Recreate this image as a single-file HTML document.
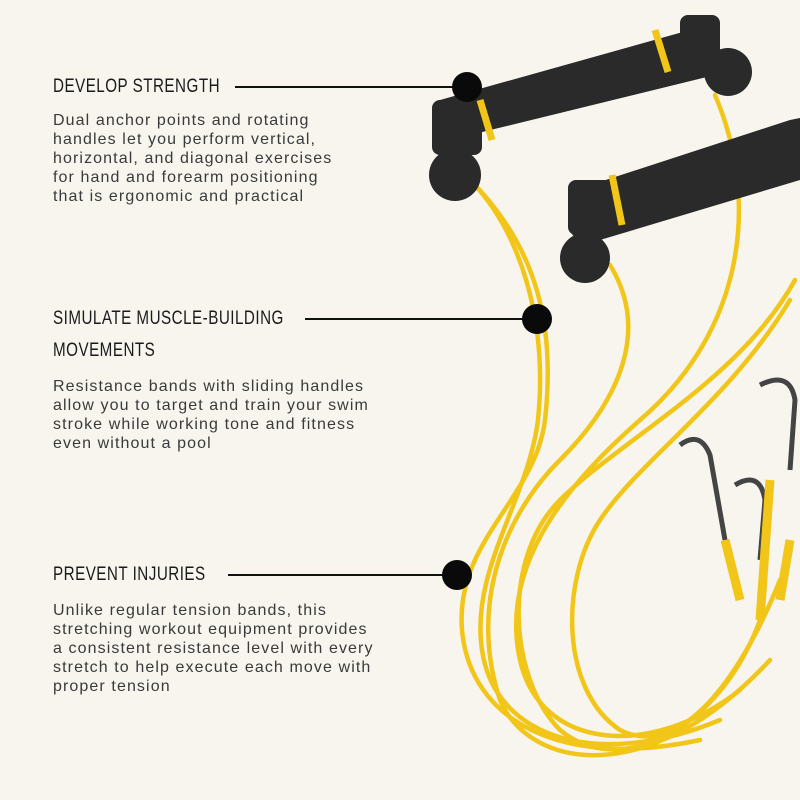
<!DOCTYPE html>
<html><head><meta charset="utf-8"><style>
body{margin:0;background:#f7f5ee;}
.w{position:relative;width:800px;height:800px;overflow:hidden;background:#f7f5ee;font-family:"Liberation Sans",sans-serif;}
.h{position:absolute;left:53px;font-size:19px;color:#1a1a1a;letter-spacing:0.6px;transform:scaleX(0.8);transform-origin:left;white-space:nowrap;}
.p{position:absolute;left:53px;font-size:16px;line-height:19px;color:#3a3a3a;letter-spacing:1.1px;white-space:nowrap;}
svg{position:absolute;left:0;top:0}
</style></head><body><div class="w">
<svg width="800" height="800">
<g fill="none" stroke="#f1c619" stroke-width="4.5" stroke-linecap="round">
<path d="M470 180 C540 250 555 330 545 420 C535 500 455 540 462 630 C470 720 560 770 700 740"/>
<path d="M470 180 C520 230 548 320 538 420 C528 500 470 570 482 650 C495 740 600 770 720 720"/>
<path d="M715 95 C760 200 745 330 640 420 C560 490 500 570 520 660 C540 750 650 760 740 690"/>
<path d="M610 265 C650 330 620 400 560 460 C500 520 470 610 500 700 C530 770 650 790 770 660"/>
<path d="M795 280 C740 380 620 440 560 500 C500 560 510 680 560 730 C620 780 720 730 760 620"/>
<path d="M790 300 C730 400 640 460 600 520 C560 580 560 690 620 730 C680 760 740 680 780 580"/>
</g>
<g fill="#2a2a2a">
<path d="M440 100 L690 30 Q715 25 715 55 L715 75 L470 135 Q440 145 435 130 Z"/>
<rect x="432" y="100" width="50" height="55" rx="8"/>
<circle cx="455" cy="175" r="26"/>
<rect x="680" y="15" width="40" height="55" rx="8"/>
<circle cx="728" cy="72" r="24"/>
<path d="M575 190 L790 120 L800 118 L800 180 L600 240 Q575 245 570 230 Z"/>
<rect x="568" y="180" width="45" height="55" rx="8"/>
<circle cx="585" cy="258" r="25"/>
</g>
<g fill="none" stroke="#f1c619" stroke-width="7">
<line x1="480" y1="100" x2="492" y2="140"/><line x1="655" y1="30" x2="668" y2="72"/>
<line x1="612" y1="175" x2="622" y2="225"/>
</g>
<g fill="none" stroke="#444" stroke-width="5">
<path d="M680 445 Q700 430 710 455 L725 540"/><path d="M760 385 Q790 370 795 400 L790 470"/>
<path d="M735 485 Q760 470 765 500 L760 560"/>
</g>
<g fill="none" stroke="#f1c619" stroke-width="9">
<path d="M725 540 L740 600"/><path d="M770 480 L760 620"/><path d="M790 540 L780 600"/>
</g>
<g stroke="#111" stroke-width="2">
<line x1="235" y1="87" x2="455" y2="87"/><line x1="305" y1="319" x2="525" y2="319"/><line x1="228" y1="575" x2="445" y2="575"/>
</g>
<g fill="#0a0a0a"><circle cx="467" cy="87" r="15"/><circle cx="537" cy="319" r="15"/><circle cx="457" cy="575" r="15"/></g>
</svg>
<div class="h" style="top:76px">DEVELOP STRENGTH</div>
<div class="p" style="top:111px">Dual anchor points and rotating<br>handles let you perform vertical,<br>horizontal, and diagonal exercises<br>for hand and forearm positioning<br>that is ergonomic and practical</div>
<div class="h" style="top:308px">SIMULATE MUSCLE-BUILDING</div>
<div class="h" style="top:340px">MOVEMENTS</div>
<div class="p" style="top:377px">Resistance bands with sliding handles<br>allow you to target and train your swim<br>stroke while working tone and fitness<br>even without a pool</div>
<div class="h" style="top:564px">PREVENT INJURIES</div>
<div class="p" style="top:601px">Unlike regular tension bands, this<br>stretching workout equipment provides<br>a consistent resistance level with every<br>stretch to help execute each move with<br>proper tension</div>
</div></body></html>
